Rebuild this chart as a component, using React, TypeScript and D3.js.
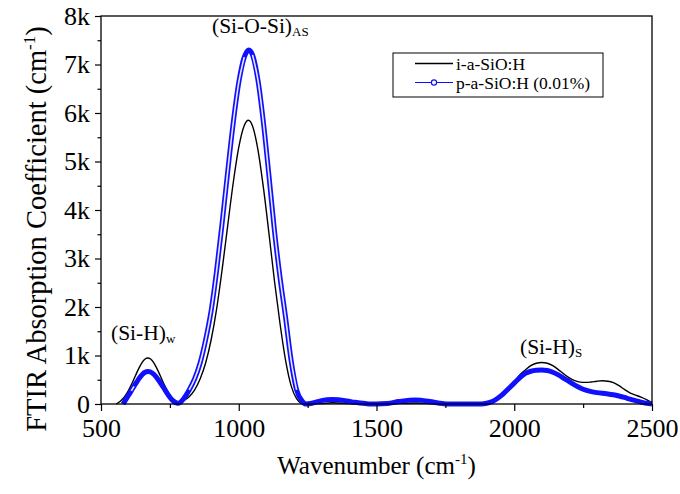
import React, { useEffect, useRef } from "react";
import * as d3 from "d3";

const W = 680;
const H = 494;
const MARGIN = { top: 16, right: 28, bottom: 90, left: 101 };
const FONT = '"Liberation Serif", "Times New Roman", serif';
const BLUE = "#1010ff";

// i-a-SiO:H
const blackWavenumber = [
  555, 570, 580, 590, 600, 610, 620, 630, 640, 650, 660, 670, 680, 690, 700, 710, 720, 730, 740, 750,
  760, 770, 780, 790, 800, 820, 840, 860, 880, 900, 920, 940, 960, 980, 1000, 1020, 1035, 1050, 1070,
  1090, 1110, 1130, 1150, 1170, 1190, 1210, 1225, 1240, 1300, 1340, 1400, 1480, 1560, 1640, 1720, 1760,
  1880, 1900, 1920, 1940, 1960, 1980, 2000, 2020, 2040, 2060, 2080, 2100, 2120, 2140, 2160, 2180, 2200,
  2220, 2240, 2260, 2280, 2300, 2320, 2340, 2360, 2380, 2400, 2420, 2440, 2460, 2480, 2500,
];
const blackAbsorption = [
  0, 57, 112, 187, 282, 394, 519, 647, 766, 864, 928, 950, 928, 864, 766, 647, 519, 394, 282, 187,
  110, 60, 35, 45, 70, 150, 290, 520, 850, 1330, 1973, 2786, 3684, 4562, 5290, 5743, 5850, 5731, 5230,
  4439, 3500, 2520, 1650, 900, 380, 110, 20, 0, 10, 25, 10, 0, 5, 20, 5, 0,
  5, 25, 65, 130, 220, 330, 460, 600, 700, 790, 840, 855, 840, 790, 710, 620, 540,
  480, 450, 445, 455, 470, 478, 470, 440, 380, 300, 230, 185, 140, 90, 30,
];

// p-a-SiO:H (0.01%)
const blueWavenumber = [
  580, 590, 600, 610, 620, 630, 640, 650, 660, 670, 680, 690, 700, 710, 720, 730, 740, 750, 760, 770,
  780, 790, 800, 820, 840, 860, 880, 900, 920, 940, 960, 980, 1000, 1020, 1037, 1050, 1070, 1090, 1110,
  1130, 1150, 1170, 1190, 1210, 1230, 1245, 1260, 1280, 1300, 1320, 1340, 1360, 1380, 1400, 1420, 1440,
  1460, 1480, 1500, 1540, 1580, 1620, 1640, 1660, 1700, 1740, 1760, 1800, 1880, 1900, 1920, 1940, 1960,
  1980, 2000, 2020, 2040, 2060, 2080, 2100, 2120, 2140, 2160, 2180, 2200, 2220, 2240, 2260, 2280, 2300,
  2320, 2340, 2360, 2380, 2400, 2420, 2440, 2460, 2480, 2500,
];
const blueAbsorption = [
  0, 90, 180, 270, 365, 455, 540, 610, 655, 672, 660, 620, 560, 485, 400, 310, 220, 140, 75, 30,
  15, 45, 110, 290, 520, 850, 1330, 1931, 2767, 3748, 4796, 5799, 6625, 7152, 7300, 7198, 6667, 5778, 4684,
  3553, 2600, 1780, 900, 290, 60, 0, 10, 40, 70, 88, 95, 90, 75, 55, 35, 20,
  8, 0, 0, 10, 50, 80, 85, 80, 45, 10, 0, 0, 0, 15, 50, 120, 210,
  320, 430, 540, 630, 675, 695, 700, 690, 655, 600, 530, 460, 390, 330, 285, 255, 235,
  220, 208, 190, 165, 135, 100, 70, 40, 15, 0,
];

const xTicks = [500, 1000, 1500, 2000, 2500];
const xMinorTicks = [750, 1250, 1750, 2250];
const yTicks = [0, 1000, 2000, 3000, 4000, 5000, 6000, 7000, 8000];
const yTickLabels = ["0", "1k", "2k", "3k", "4k", "5k", "6k", "7k", "8k"];
const yMinorTicks = [500, 1500, 2500, 3500, 4500, 5500, 6500, 7500];

const seriesNames = ["i-a-SiO:H", "p-a-SiO:H (0.01%)"];

type Pt = { x: number; y: number; steep?: boolean };

export default function App() {
  const xAxisRef = useRef<SVGGElement>(null);
  const yAxisRef = useRef<SVGGElement>(null);

  const x = d3.scaleLinear().domain([500, 2500]).range([MARGIN.left, W - MARGIN.right]);
  const y = d3.scaleLinear().domain([0, 8000]).range([H - MARGIN.bottom, MARGIN.top]);

  const black: Pt[] = blackWavenumber.map((w, i) => ({ x: w, y: blackAbsorption[i] }));
  const blue: Pt[] = blueWavenumber.map((w, i) => ({ x: w, y: blueAbsorption[i] }));
  // where the hollow markers are spread out (steep flanks) they show white centres
  blue.forEach((p, i) => {
    const a = blue[Math.max(0, i - 1)];
    const b = blue[Math.min(blue.length - 1, i + 1)];
    const slope = Math.abs((y(b.y) - y(a.y)) / (x(b.x) - x(a.x)));
    p.steep = slope > 1.6;
  });

  const line = d3
    .line<Pt>()
    .x((d) => x(d.x))
    .y((d) => y(d.y))
    .curve(d3.curveMonotoneX);
  const coreLine = d3
    .line<Pt>()
    .defined((d) => !!d.steep)
    .x((d) => x(d.x))
    .y((d) => y(d.y))
    .curve(d3.curveMonotoneX);

  useEffect(() => {
    const gx = d3.select(xAxisRef.current!);
    gx.selectAll("*").remove();
    gx.call(d3.axisBottom(x).tickValues(xTicks).tickSize(7).tickPadding(8).tickFormat(d3.format("d")));
    gx.append("g").call(d3.axisBottom(x).tickValues(xMinorTicks).tickSize(4).tickFormat(() => ""));
    gx.selectAll(".domain").remove();
    gx.attr("font-family", FONT).attr("font-size", 26);
    gx.selectAll("line").attr("stroke", "#000").attr("stroke-width", 1.2);
    gx.selectAll("text").attr("fill", "#000");

    const gy = d3.select(yAxisRef.current!);
    gy.selectAll("*").remove();
    gy.call(
      d3
        .axisLeft(y)
        .tickValues(yTicks)
        .tickSize(6)
        .tickPadding(5)
        .tickFormat((d, i) => yTickLabels[i])
    );
    gy.append("g").call(d3.axisLeft(y).tickValues(yMinorTicks).tickSize(3.5).tickFormat(() => ""));
    gy.selectAll(".domain").remove();
    gy.attr("font-family", FONT).attr("font-size", 26);
    gy.selectAll("line").attr("stroke", "#000").attr("stroke-width", 1.2);
    gy.selectAll("text").attr("fill", "#000");
  }, []);

  const x0 = MARGIN.left;
  const x1 = W - MARGIN.right;
  const y0 = H - MARGIN.bottom;
  const y1 = MARGIN.top;

  return (
    <div style={{ position: "absolute", left: 0, top: 0 }}>
      <svg width={W} height={H} style={{ display: "block", background: "#fff" }} fontFamily={FONT}>
        {/* curves */}
        <path d={line(black) ?? ""} fill="none" stroke="#000" strokeWidth={1.4} />
        <path d={line(blue) ?? ""} fill="none" stroke={BLUE} strokeWidth={5} strokeLinejoin="round" />
        <path d={coreLine(blue) ?? ""} fill="none" stroke="#fff" strokeWidth={1.6} strokeOpacity={0.9} />

        {/* frame */}
        <rect x={x0} y={y1} width={x1 - x0} height={y0 - y1} fill="none" stroke="#000" strokeWidth={1.3} />
        <g ref={xAxisRef} transform={`translate(0,${y0})`} />
        <g ref={yAxisRef} transform={`translate(${x0},0)`} />

        {/* peak labels */}
        <text x={212} y={33} fontSize={21.5} fill="#000">
          (Si-O-Si)
          <tspan fontSize={13} dy={3}>AS</tspan>
        </text>
        <text x={111} y={340} fontSize={21.5} fill="#000">
          (Si-H)
          <tspan fontSize={13} dy={3}>w</tspan>
        </text>
        <text x={520} y={354} fontSize={21.5} fill="#000">
          (Si-H)
          <tspan fontSize={13} dy={3}>S</tspan>
        </text>

        {/* legend */}
        <g>
          <rect x={393} y={53} width={210} height={44} fill="#fff" stroke="#000" strokeWidth={1} />
          <line x1={415} x2={453} y1={63.5} y2={63.5} stroke="#000" strokeWidth={1.4} />
          <text x={456} y={69.5} fontSize={17.5} fill="#000">{seriesNames[0]}</text>
          <line x1={415} x2={453} y1={82.5} y2={82.5} stroke={BLUE} strokeWidth={1.2} />
          <circle cx={434} cy={82.5} r={2.6} fill="#fff" stroke={BLUE} strokeWidth={1.2} />
          <text x={456} y={88.5} fontSize={17.5} fill="#000">{seriesNames[1]}</text>
        </g>

        {/* axis titles */}
        <text x={(x0 + x1) / 2} y={474} fontSize={25} textAnchor="middle" fill="#000">
          Wavenumber (cm
          <tspan fontSize={15} dy={-10}>-1</tspan>
          <tspan dy={10}>)</tspan>
        </text>
        <text transform={`translate(46,${229}) rotate(-90)`} fontSize={28.5} textAnchor="middle" fill="#000">
          FTIR Absorption Coefficient (cm
          <tspan fontSize={17} dy={-11}>-1</tspan>
          <tspan dy={11}>)</tspan>
        </text>
      </svg>
    </div>
  );
}
